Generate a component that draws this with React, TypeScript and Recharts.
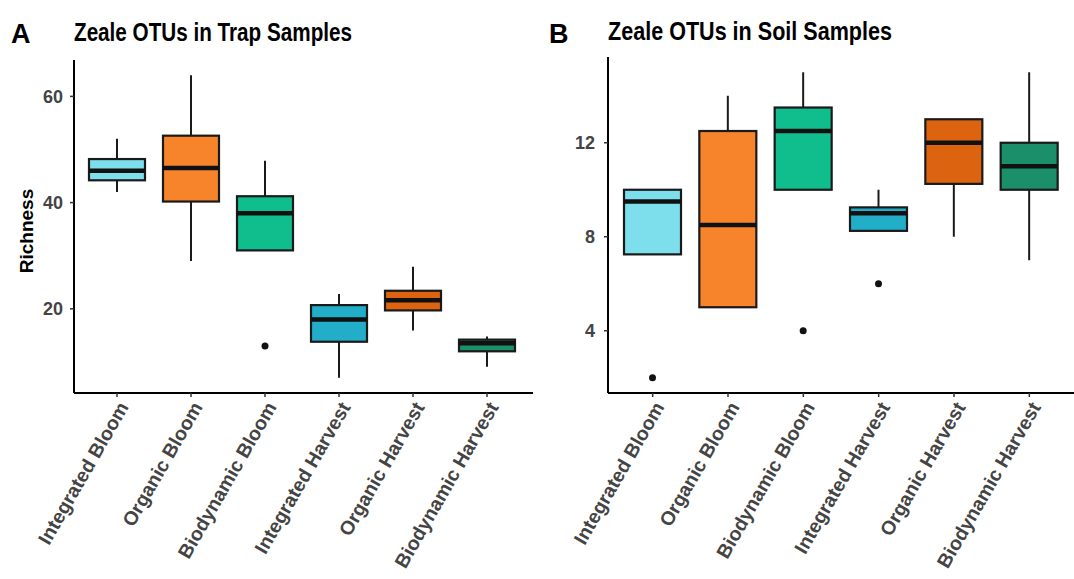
import { ComposedChart, Bar, XAxis, YAxis } from "recharts";

const categories = [
  "Integrated Bloom",
  "Organic Bloom",
  "Biodynamic Bloom",
  "Integrated Harvest",
  "Organic Harvest",
  "Biodynamic Harvest",
];
const boxColors = ["#7ddfec", "#f7842b", "#10bd8c", "#22adc8", "#dc6410", "#1a8f6a"];

// panel A: trap samples
const trapMin = [42, 29, 31, 7, 15.9, 9.1];
const trapQ1 = [44.2, 40.2, 31, 13.8, 19.7, 12];
const trapMedian = [46, 46.5, 38, 18, 21.6, 13.5];
const trapQ3 = [48.2, 52.6, 41.2, 20.7, 23.4, 14.2];
const trapMax = [52, 64, 47.9, 22.8, 27.9, 14.8];
const trapOutliers = [[], [], [13], [], [], []];
const trapTicks = [20, 40, 60];

// panel B: soil samples
const soilMin = [7.25, 5, 10, 8.25, 8, 7];
const soilQ1 = [7.25, 5, 10, 8.25, 10.25, 10];
const soilMedian = [9.5, 8.5, 12.5, 9, 12, 11];
const soilQ3 = [10, 12.5, 13.5, 9.25, 13, 12];
const soilMax = [10, 14, 15, 10, 13, 15];
const soilOutliers = [[2], [], [4], [6], [], []];
const soilTicks = [4, 8, 12];

const FONT = "'Liberation Sans', Arial, sans-serif";

function buildRows(min, q1, median, q3, max, outliers) {
  return categories.map((name, i) => ({
    name,
    min: min[i],
    q1: q1[i],
    median: median[i],
    q3: q3[i],
    max: max[i],
    outliers: outliers[i],
    color: boxColors[i],
  }));
}

const trapRows = buildRows(trapMin, trapQ1, trapMedian, trapQ3, trapMax, trapOutliers);
const soilRows = buildRows(soilMin, soilQ1, soilMedian, soilQ3, soilMax, soilOutliers);

// bar spans min..max; inner values are placed on the same linear scale
function BoxShape(props: any) {
  const { x, y, width, height, payload } = props;
  if (x == null || y == null || !payload) return null;
  const top = Math.min(y, y + height);
  const h = Math.abs(height);
  const { min, q1, median, q3, max, outliers, color } = payload;
  const span = max - min || 1;
  const toY = (v: number) => top + (h * (max - v)) / span;
  const cx = x + width / 2;
  const stroke = "#1a1a1a";
  return (
    <g>
      <line x1={cx} x2={cx} y1={toY(max)} y2={toY(q3)} stroke={stroke} strokeWidth={2} />
      <line x1={cx} x2={cx} y1={toY(q1)} y2={toY(min)} stroke={stroke} strokeWidth={2} />
      <rect
        x={x}
        y={toY(q3)}
        width={width}
        height={toY(q1) - toY(q3)}
        fill={color}
        stroke={stroke}
        strokeWidth={2.2}
      />
      <line x1={x} x2={x + width} y1={toY(median)} y2={toY(median)} stroke="#111" strokeWidth={4.5} />
      {outliers.map((o: number, k: number) => (
        <circle key={k} cx={cx} cy={toY(o)} r={3.5} fill="#111" />
      ))}
    </g>
  );
}

function AngledTick(props: any) {
  const { x, y, payload } = props;
  return (
    <g transform={`translate(${x},${y})`}>
      <text
        transform="rotate(-60)"
        textAnchor="end"
        dy="0.72em"
        fontFamily={FONT}
        fontWeight="bold"
        fontSize={19.5}
        fill="#444"
      >
        {payload.value}
      </text>
    </g>
  );
}

function RichnessLabel() {
  return (
    <text
      x={33}
      y={231}
      transform="rotate(-90, 33, 231)"
      textAnchor="middle"
      fontFamily={FONT}
      fontWeight="bold"
      fontSize={19}
      fill="#000"
    >
      Richness
    </text>
  );
}

function Panel({ rows, domain, ticks, width, height, yWidth, margin, padding, barSize, tickMargin, showLabel }: any) {
  return (
    <ComposedChart width={width} height={height} data={rows} margin={margin}>
      <XAxis
        dataKey="name"
        type="category"
        interval={0}
        padding={padding}
        height={height - 393 - margin.bottom}
        tick={<AngledTick />}
        tickSize={4}
        tickMargin={3}
        tickLine={{ stroke: "#333", strokeWidth: 1.5 }}
        axisLine={{ stroke: "#000", strokeWidth: 2 }}
      />
      <YAxis
        type="number"
        domain={domain}
        ticks={ticks}
        width={yWidth}
        tickSize={4}
        tickMargin={tickMargin}
        tickLine={{ stroke: "#333", strokeWidth: 1.5 }}
        axisLine={{ stroke: "#000", strokeWidth: 2 }}
        tick={{ fontFamily: FONT, fontWeight: "bold", fontSize: 18, fill: "#444" }}
        label={showLabel ? { content: () => <RichnessLabel /> } : undefined}
      />
      <Bar
        dataKey={(d: any) => [d.min, d.max]}
        barSize={barSize}
        isAnimationActive={false}
        shape={(p: any) => <BoxShape {...p} />}
      />
    </ComposedChart>
  );
}

export default function App() {
  return (
    <div style={{ position: "absolute", left: 0, top: 0, width: 1074, height: 579, background: "#fff" }}>
      <div style={{ position: "absolute", left: 0, top: 0 }}>
        <Panel
          rows={trapRows}
          domain={[4.15, 66.85]}
          ticks={trapTicks}
          width={540}
          height={579}
          yWidth={74}
          margin={{ top: 60, right: 7, bottom: 0, left: 0 }}
          padding={{ left: 6, right: 9 }}
          barSize={56}
          tickMargin={7}
          showLabel
        />
      </div>
      <div style={{ position: "absolute", left: 540, top: 0 }}>
        <Panel
          rows={soilRows}
          domain={[1.35, 15.65]}
          ticks={soilTicks}
          width={534}
          height={579}
          yWidth={68}
          margin={{ top: 57, right: 0, bottom: 3, left: 0 }}
          padding={{ left: 7, right: 7 }}
          barSize={57}
          tickMargin={9}
        />
      </div>
      <svg width={1074} height={60} style={{ position: "absolute", left: 0, top: 0 }}>
        <text x={11} y={43} fontFamily={FONT} fontWeight="bold" fontSize={27} fill="#000">
          A
        </text>
        <text
          x={74}
          y={41}
          fontFamily={FONT}
          fontWeight="bold"
          fontSize={25}
          textLength={278}
          lengthAdjust="spacingAndGlyphs"
          fill="#000"
        >
          Zeale OTUs in Trap Samples
        </text>
        <text x={549} y={43} fontFamily={FONT} fontWeight="bold" fontSize={27} fill="#000">
          B
        </text>
        <text
          x={608}
          y={40}
          fontFamily={FONT}
          fontWeight="bold"
          fontSize={25}
          textLength={284}
          lengthAdjust="spacingAndGlyphs"
          fill="#000"
        >
          Zeale OTUs in Soil Samples
        </text>
      </svg>
    </div>
  );
}
